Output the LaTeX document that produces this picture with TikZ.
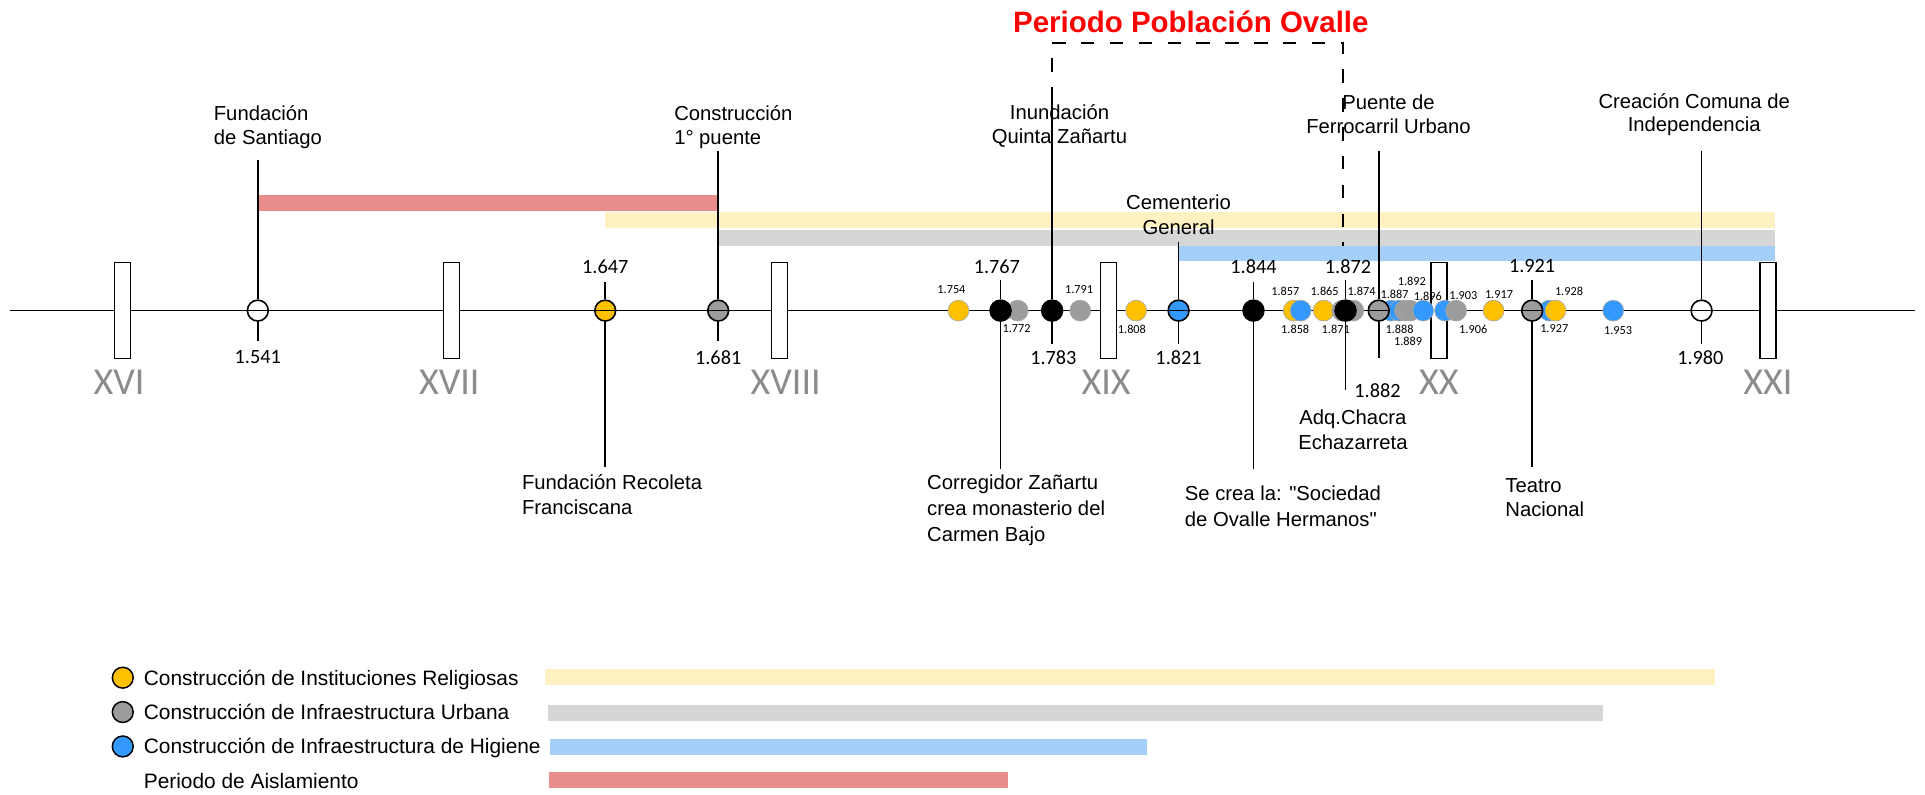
\documentclass[tikz,border=0pt]{standalone}
\usepackage{fontspec}
\setmainfont{Liberation Sans}[Ligatures=TeXOff]
\newfontfamily\numfont{Carlito}
\definecolor{relig}{HTML}{FFC000}
\definecolor{urban}{HTML}{9C9C9C}
\definecolor{higiene}{HTML}{3399FF}
\definecolor{barrelig}{HTML}{FFF1C2}
\definecolor{barurban}{HTML}{D6D6D6}
\definecolor{barhig}{HTML}{A3CFFA}
\definecolor{barais}{HTML}{E88C8C}
\definecolor{romangray}{HTML}{8C8C8C}
\begin{document}
\begin{tikzpicture}[x=1pt,y=-1pt,
  every node/.style={inner sep=0pt},
  note/.style={font=\fontsize{16.5}{20}\selectfont},
  legendtxt/.style={font=\fontsize{17}{20}\selectfont, anchor=base west},
  yearlbl/.style={font=\numfont\fontsize{16.5}{17}\selectfont},
  smalllbl/.style={font=\numfont\fontsize{10}{11}\selectfont},
  romanlbl/.style={font=\numfont\fontsize{31}{31}\selectfont, text=romangray},
  century/.style={draw=black, fill=white, line width=1.1pt, minimum width=13pt, minimum height=78pt},
  sdot/.style={circle, minimum size=17pt, draw=black!35, line width=0.5pt},
  evt/.style={circle, minimum size=17pt, draw=black, line width=1.3pt},
  rel/.style={fill=relig}, urb/.style={fill=urban}, hig/.style={fill=higiene},
  blk/.style={fill=black}, opn/.style={fill=white},
  evline/.style={line width=1.3pt},
  bracket/.style={line width=1.3pt, dash pattern=on 11pt off 12.5pt}
]
\useasboundingbox (0,0) rectangle (1568,647);

% ---- period bars ----
\fill[barais]   (210,159) rectangle (585,172);
\fill[barrelig] (493,173) rectangle (1446,186);
\fill[barurban] (585,187) rectangle (1446,200);
\fill[barhig]   (960,200) rectangle (1446,213);

% ---- time axis and century markers ----
\coordinate (axL) at (8,253);
\coordinate (axR) at (1560,253);
\draw[line width=1.2pt] (axL) -- (axR);
\foreach \cx/\nm/\rx in {100/XVI/97, 368/XVII/366, 635/XVIII/640, 903/XIX/901, 1172/XX/1172, 1440/XXI/1440}{
  \node[century] (box\nm) at (\cx,253) {};
  \node[romanlbl] (rom\nm) at (\rx,311) {\nm};
}

% ---- minor dated works (chronological, later on top) ----
\node[sdot,rel] (d1754) at ({100+(1754-1500)*2.68},253) {};
\node[sdot,urb] (d1772) at ({100+(1772-1500)*2.68},253) {};
\node[sdot,urb] (d1791) at ({100+(1791-1500)*2.68},253) {};
\node[sdot,rel] (d1808) at ({100+(1808-1500)*2.68},253) {};
\node[sdot,rel] (d1857) at ({100+(1857-1500)*2.68-3},253) {};
\node[sdot,hig] (d1858) at ({100+(1858-1500)*2.68},253) {};
\node[sdot,rel] (d1865) at ({100+(1865-1500)*2.68},253) {};
\node[sdot,urb] (d1871) at ({100+(1871-1500)*2.68-1},253) {};
\node[sdot,urb] (d1874) at ({100+(1874-1500)*2.68},253) {};
\node[sdot,hig] (d1887) at ({100+(1887-1500)*2.68-4},253) {};
\node[sdot,hig] (d1888) at ({100+(1888-1500)*2.68},253) {};
\node[sdot,urb] (d1889) at ({100+(1889-1500)*2.68+2},253) {};
\node[sdot,urb] (d1892) at ({100+(1892-1500)*2.68-2},253) {};
\node[sdot,hig] (d1896) at ({100+(1896-1500)*2.68-2},253) {};
\node[sdot,hig] (d1903) at ({100+(1903-1500)*2.68-3},253) {};
\node[sdot,urb] (d1906) at ({100+(1906-1500)*2.68-2},253) {};
\node[sdot,rel] (d1917) at ({100+(1917-1500)*2.68-1},253) {};
\node[sdot,hig] (d1927) at (1262,253) {};
\node[sdot,rel] (d1928) at (1267,253) {};
\node[sdot,hig] (d1953) at ({100+(1953-1500)*2.68},253) {};

\node[smalllbl] (s1754) at (775,236) {1.754};
\node[smalllbl] (s1772) at (828,268) {1.772};
\node[smalllbl] (s1791) at (879,236) {1.791};
\node[smalllbl] (s1808) at (922,268) {1.808};
\node[smalllbl] (s1857) at (1047,237) {1.857};
\node[smalllbl] (s1858) at (1055,268) {1.858};
\node[smalllbl] (s1865) at (1079,237) {1.865};
\node[smalllbl] (s1871) at (1088,268) {1.871};
\node[smalllbl] (s1874) at (1109,237) {1.874};
\node[smalllbl] (s1887) at (1136,240) {1.887};
\node[smalllbl] (s1892) at (1150,229) {1.892};
\node[smalllbl] (s1896) at (1163,241) {1.896};
\node[smalllbl] (s1888) at (1140,268) {1.888};
\node[smalllbl] (s1889) at (1147,278) {1.889};
\node[smalllbl] (s1903) at (1192,241) {1.903};
\node[smalllbl] (s1906) at (1200,268) {1.906};
\node[smalllbl] (s1917) at (1221,240) {1.917};
\node[smalllbl] (s1927) at (1266,268) {1.927};
\node[smalllbl] (s1928) at (1278,237) {1.928};
\node[smalllbl] (s1953) at (1318,269) {1.953};

% ---- main events ----
\node[evt,opn] (c1541) at (210,253) {};
\node[evt,rel] (c1647) at (493,253) {};
\node[evt,urb] (c1681) at (585,253) {};
\node[evt,blk] (c1767) at (815,253) {};
\node[evt,blk] (c1783) at (857,253) {};
\node[evt,hig] (c1821) at (960,253) {};
\node[evt,blk] (c1844) at (1021,253) {};
\node[evt,blk] (c1872) at (1096,253) {};
\node[evt,urb] (c1882) at (1123,253) {};
\node[evt,urb] (c1921) at (1248,253) {};
\node[evt,opn] (c1980) at (1386,253) {};

% crosshair through the event markers
\foreach \e in {1541,1647,1681,1767,1783,1821,1844,1872,1882,1921,1980}{
  \draw[evline] (c\e.west) -- (c\e.east);
}

% year labels
\node[yearlbl] (l1541) at (210,291) {1.541};
\node[yearlbl] (l1647) at (493,217) {1.647};
\node[yearlbl] (l1681) at (585,291) {1.681};
\node[yearlbl] (l1767) at (812,217) {1.767};
\node[yearlbl] (l1783) at (858,291) {1.783};
\node[yearlbl] (l1821) at (960,291) {1.821};
\node[yearlbl] (l1844) at (1021,217) {1.844};
\node[yearlbl] (l1872) at (1098,217) {1.872};
\node[yearlbl] (l1882) at (1122,318) {1.882};
\node[yearlbl] (l1921) at (1248,217) {1.921};
\node[yearlbl] (l1980) at (1385,291) {1.980};

% event descriptions (anchored on the baseline of the last line)
\node[note, align=left, anchor=base west] (t1541) at (174,118) {Fundación\\de Santiago};
\node[note, align=left, anchor=base west] (t1681) at (549,118) {Construcción\\1° puente};
\node[note, align=center, anchor=base] (t1783) at (863,117) {Inundación\\Quinta Zañartu};
\node[note, align=center, anchor=base] (t1821) at (960,191) {Cementerio\\General};
\node[note, align=center, anchor=base] (t1882) at (1131,109) {Puente de\\Ferrocarril Urbano};
\node[note, align=center, anchor=base, font=\fontsize{16.5}{19}\selectfont] (t1980) at (1380,107) {Creación Comuna de\\Independencia};
\node[note, align=left, anchor=base west] (t1647) at (425,419) {Fundación Recoleta\\Franciscana};
\node[note, align=left, anchor=base west, font=\fontsize{16.5}{21}\selectfont] (t1767) at (755,441) {Corregidor Zañartu\\crea monasterio del\\Carmen Bajo};
\node[note, align=center, anchor=base] (t1872) at (1102,366) {Adq.Chacra\\Echazarreta};
\node[note, align=left, anchor=base west, font=\fontsize{16.5}{21}\selectfont] (t1844) at (965,429) {Se crea la: "Sociedad\\de Ovalle Hermanos"};
\node[note, align=left, anchor=base west] (t1921) at (1226,421) {Teatro\\Nacional};

% ---- event leader lines ----
\coordinate (a1541) at (210,130);  \coordinate (b1541) at (210,278);
\coordinate (a1647) at (493,230);  \coordinate (b1647) at (493,380);
\coordinate (a1681) at (585,123);  \coordinate (b1681) at (585,278);
\coordinate (a1767) at (815,228);  \coordinate (b1767) at (815,382);
\coordinate (a1783) at (857,82);   \coordinate (b1783) at (857,280);
\coordinate (a1821) at (960,197);  \coordinate (b1821) at (960,280);
\coordinate (a1844) at (1021,230); \coordinate (b1844) at (1021,382);
\coordinate (a1872) at (1096,228); \coordinate (b1872) at (1096,318);
\coordinate (a1882) at (1123,123); \coordinate (b1882) at (1123,292);
\coordinate (a1921) at (1248,228); \coordinate (b1921) at (1248,380);
\coordinate (a1980) at (1386,123); \coordinate (b1980) at (1386,280);
\foreach \e in {1541,1647,1681,1767,1783,1821,1844,1872,1882,1921,1980}{
  \draw[evline] (a\e) -- (c\e) -- (b\e);
}

% ---- Ovalle population period ----
\node[font=\bfseries\fontsize{24}{24}\selectfont, text=red] (title) at (970,18) {Periodo Población Ovalle};
\coordinate (k1) at (857,35);
\coordinate (k2) at (1094,35);
\coordinate (k3) at (1094,200);
\draw[bracket] (a1783) -- (k1) -- (k2) -- (k3);

% ---- legend ----
\node[evt,rel,line width=1.2pt] (g1) at (100,552) {};
\node[evt,urb,line width=1.2pt] (g2) at (100,580) {};
\node[evt,hig,line width=1.2pt] (g3) at (100,608) {};
\node[legendtxt] (g1t) at (117,558) {Construcción de Instituciones Religiosas};
\node[legendtxt] (g2t) at (117,586) {Construcción de Infraestructura Urbana};
\node[legendtxt] (g3t) at (117,614) {Construcción de Infraestructura de Higiene};
\node[legendtxt] (g4t) at (117,642) {Periodo de Aislamiento};
\fill[barrelig] (444,545) rectangle (1397,558);
\fill[barurban] (446,574) rectangle (1306,587);
\fill[barhig]   (448,602) rectangle (934,615);
\fill[barais]   (447,629) rectangle (821,642);
\end{tikzpicture}
\end{document}
